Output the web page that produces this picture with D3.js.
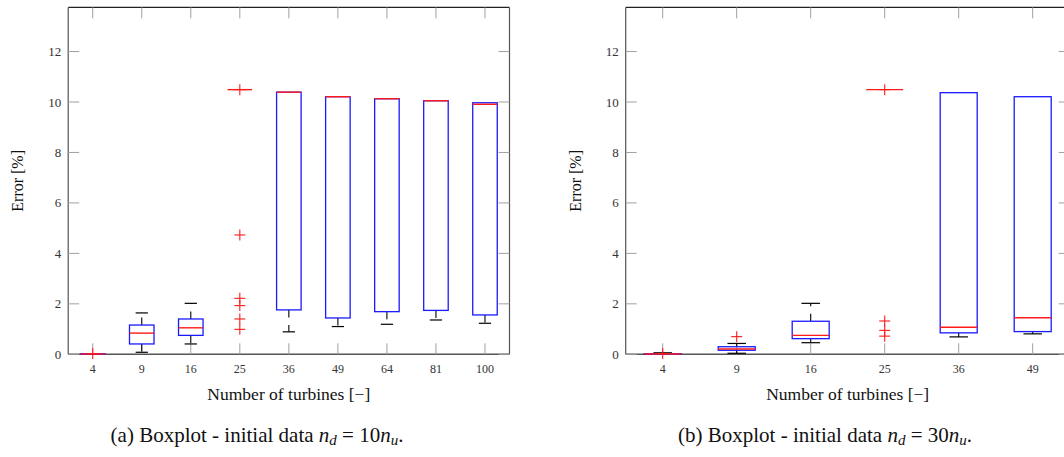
<!DOCTYPE html>
<html>
<head>
<meta charset="utf-8">
<script src="https://cdnjs.cloudflare.com/ajax/libs/d3/7.8.5/d3.min.js"></script>
<style>
body { margin: 0; background: #fff; }
svg { display: block; }
text { font-family: "Liberation Serif", "DejaVu Serif", serif; }
</style>
</head>
<body>
<svg id="chart" width="1064" height="457"></svg>
<script>
var categories = ["4", "9", "16", "25", "36", "49", "64", "81", "100"];
var yTicks = [0, 2, 4, 6, 8, 10, 12];

// (a) initial data n_d = 10 n_u
var q1A  = [0,    0.41, 0.75, 10.49, 1.76,  1.44,  1.69,  1.74,  1.56];
var medA = [0.01, 0.84, 1.05, 10.49, 10.39, 10.21, 10.13, 10.05, 9.91];
var q3A  = [0.02, 1.16, 1.40, 10.49, 10.39, 10.21, 10.13, 10.05, 9.97];
var loA  = [0,    0.08, 0.41, 10.49, 0.89,  1.10,  1.19,  1.36,  1.23];
var hiA  = [0.02, 1.64, 2.02, 10.49, 10.39, 10.21, 10.13, 10.05, 9.97];
var outA = [[0.03], [], [], [10.49, 4.73, 2.22, 1.93, 1.40, 0.99], [], [], [], [], []];

// (b) initial data n_d = 30 n_u (only 6 counts)
var q1B  = [0,    0.16, 0.62, 10.49, 0.85,  0.90];
var medB = [0.01, 0.21, 0.75, 10.49, 1.07,  1.45];
var q3B  = [0.02, 0.30, 1.31, 10.49, 10.37, 10.21];
var loB  = [0,    0.04, 0.46, 10.49, 0.69,  0.81];
var hiB  = [0.06, 0.43, 2.02, 10.49, 10.37, 10.21];
var outB = [[0.03], [0.70], [], [10.49, 1.32, 0.95, 0.72], [], []];

var svg = d3.select('#chart');
var plotTop = 7.4, plotBottom = 354.3;
var y = d3.scaleLinear().domain([0, 13.75]).range([plotBottom, plotTop]);

function drawPanel(left, right, n, q1, med, q3, lo, hi, outl) {
  var cats = categories.slice(0, n);
  var x = d3.scaleLinear().domain([0.5, n + 0.5]).range([left, right]);
  var unit = x(1) - x(0);
  var g = svg.append('g');

  // frame
  g.append('line').attr('x1', left).attr('x2', right).attr('y1', plotTop).attr('y2', plotTop)
    .attr('stroke', '#222').attr('stroke-width', 1.4);
  g.append('line').attr('x1', left).attr('x2', right).attr('y1', plotBottom).attr('y2', plotBottom)
    .attr('stroke', '#555').attr('stroke-width', 1.4);
  g.append('line').attr('x1', left).attr('x2', left).attr('y1', plotTop).attr('y2', plotBottom)
    .attr('stroke', '#555').attr('stroke-width', 1.2);
  g.append('line').attr('x1', right).attr('x2', right).attr('y1', plotTop).attr('y2', plotBottom)
    .attr('stroke', '#555').attr('stroke-width', 1.2);

  // inward ticks on all four sides
  g.selectAll('.tb').data(cats).enter().append('line')
    .attr('x1', (d, i) => x(i + 1)).attr('x2', (d, i) => x(i + 1))
    .attr('y1', plotBottom).attr('y2', plotBottom - 11)
    .attr('stroke', '#a0a0a0').attr('stroke-width', 1);
  g.selectAll('.tt').data(cats).enter().append('line')
    .attr('x1', (d, i) => x(i + 1)).attr('x2', (d, i) => x(i + 1))
    .attr('y1', plotTop).attr('y2', plotTop + 11)
    .attr('stroke', '#a0a0a0').attr('stroke-width', 1);
  g.selectAll('.tl').data(yTicks).enter().append('line')
    .attr('x1', left).attr('x2', left + 11)
    .attr('y1', d => y(d)).attr('y2', d => y(d))
    .attr('stroke', '#a0a0a0').attr('stroke-width', 1);
  g.selectAll('.tr').data(yTicks).enter().append('line')
    .attr('x1', right).attr('x2', right - 11)
    .attr('y1', d => y(d)).attr('y2', d => y(d))
    .attr('stroke', '#a0a0a0').attr('stroke-width', 1);

  // tick labels
  g.selectAll('.xl').data(cats).enter().append('text')
    .attr('x', (d, i) => x(i + 1)).attr('y', plotBottom + 19)
    .attr('text-anchor', 'middle').attr('font-size', 12).attr('fill', '#333')
    .text(d => d);
  g.selectAll('.yl').data(yTicks).enter().append('text')
    .attr('x', left - 7).attr('y', d => y(d) + 4.5)
    .attr('text-anchor', 'end').attr('font-size', 13).attr('fill', '#333')
    .text(d => d);

  // whiskers (dashed) and caps
  cats.forEach(function(c, i) {
    var cx = x(i + 1);
    if (hi[i] > q3[i]) {
      g.append('line').attr('x1', cx).attr('x2', cx)
        .attr('y1', y(q3[i])).attr('y2', y(hi[i]))
        .attr('stroke', '#000').attr('stroke-width', 1.1).attr('stroke-dasharray', '7.5,7.5');
      g.append('line').attr('x1', cx - unit * 0.125).attr('x2', cx + unit * 0.125)
        .attr('y1', y(hi[i])).attr('y2', y(hi[i]))
        .attr('stroke', '#000').attr('stroke-width', 1.2);
    }
    if (lo[i] < q1[i]) {
      g.append('line').attr('x1', cx).attr('x2', cx)
        .attr('y1', y(q1[i])).attr('y2', y(lo[i]))
        .attr('stroke', '#000').attr('stroke-width', 1.1).attr('stroke-dasharray', '7.5,7.5');
      g.append('line').attr('x1', cx - unit * 0.125).attr('x2', cx + unit * 0.125)
        .attr('y1', y(lo[i])).attr('y2', y(lo[i]))
        .attr('stroke', '#000').attr('stroke-width', 1.2);
    }
  });

  // boxes
  g.selectAll('.box').data(cats).enter().append('rect')
    .attr('x', (d, i) => x(i + 1) - unit * 0.25)
    .attr('width', unit * 0.5)
    .attr('y', (d, i) => y(q3[i]))
    .attr('height', (d, i) => y(q1[i]) - y(q3[i]))
    .attr('fill', 'none').attr('stroke', '#1a1aff').attr('stroke-width', 1.3);

  // medians
  g.selectAll('.med').data(cats).enter().append('line')
    .attr('x1', (d, i) => x(i + 1) - unit * 0.25)
    .attr('x2', (d, i) => x(i + 1) + unit * 0.25)
    .attr('y1', (d, i) => y(med[i])).attr('y2', (d, i) => y(med[i]))
    .attr('stroke', '#ff1a1a').attr('stroke-width', 1.4);

  // outliers
  var pts = [];
  outl.forEach((arr, i) => arr.forEach(v => pts.push({ i: i, v: v })));
  var s = 5.5;
  g.selectAll('.oh').data(pts).enter().append('line')
    .attr('x1', d => x(d.i + 1) - s).attr('x2', d => x(d.i + 1) + s)
    .attr('y1', d => y(d.v)).attr('y2', d => y(d.v))
    .attr('stroke', '#ff1a1a').attr('stroke-width', 1.1);
  g.selectAll('.ov').data(pts).enter().append('line')
    .attr('x1', d => x(d.i + 1)).attr('x2', d => x(d.i + 1))
    .attr('y1', d => y(d.v) - s).attr('y2', d => y(d.v) + s)
    .attr('stroke', '#ff1a1a').attr('stroke-width', 1.1);

  // axis titles
  var mid = (left + right) / 2;
  g.append('text').attr('x', mid).attr('y', 400)
    .attr('text-anchor', 'middle').attr('font-size', 17.5).attr('fill', '#111')
    .text('Number of turbines [\u2212]');
  g.append('text')
    .attr('transform', 'translate(' + (left - 45) + ',' + ((plotTop + plotBottom) / 2) + ') rotate(-90)')
    .attr('text-anchor', 'middle').attr('font-size', 16).attr('fill', '#111')
    .text('Error [%]');
}

drawPanel(68.2, 509.5, 9, q1A, medA, q3A, loA, hiA, outA);
drawPanel(625.7, 1069.7, 6, q1B, medB, q3B, loB, hiB, outB);

function caption(cx, tag, factor) {
  var t = svg.append('text').attr('x', cx).attr('y', 442)
    .attr('text-anchor', 'middle').attr('font-size', 21).attr('fill', '#111');
  t.append('tspan').text('(' + tag + ') Boxplot - initial data ');
  t.append('tspan').attr('font-style', 'italic').text('n');
  t.append('tspan').attr('font-style', 'italic').attr('font-size', 15).attr('dy', 3).text('d');
  t.append('tspan').attr('dy', -3).text(' = ' + factor);
  t.append('tspan').attr('font-style', 'italic').text('n');
  t.append('tspan').attr('font-style', 'italic').attr('font-size', 15).attr('dy', 3).text('u');
  t.append('tspan').attr('dy', -3).text('.');
}
caption(257, 'a', 10);
caption(825, 'b', 30);
</script>
</body>
</html>
